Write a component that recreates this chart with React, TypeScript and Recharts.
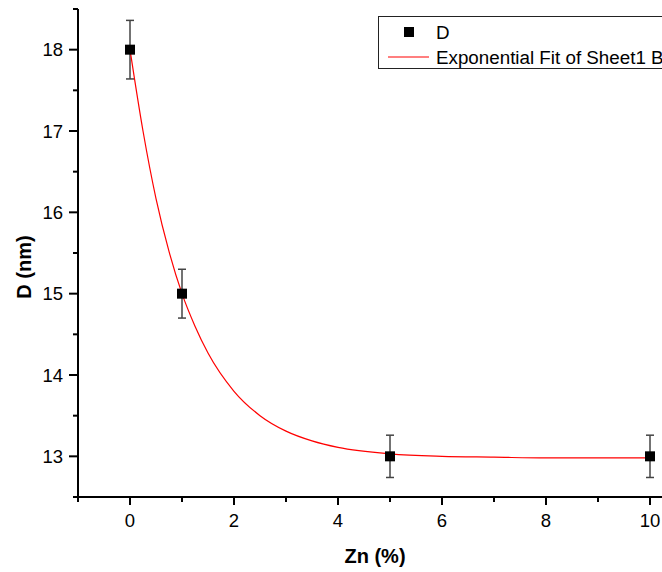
import React from 'react';
import { ComposedChart, Scatter, Line, XAxis, YAxis, ErrorBar, Legend, Label } from 'recharts';

// measured points
const zn = [0, 1, 5, 10];
const dSize = [18, 15, 13, 13];
const dErr = [0.36, 0.3, 0.26, 0.26];

// fit curve
const fitX = [0, 0.25, 0.5, 0.75, 1, 1.25, 1.5, 2, 2.5, 3, 3.5, 4, 5, 6, 7, 8, 9, 10];
const fitY = [18, 17.0, 16.17, 15.52, 15.0, 14.6, 14.27, 13.8, 13.5, 13.31, 13.19, 13.11, 13.03, 13.0, 12.99, 12.98, 12.98, 12.98];

const xTicks = [-1, 0, 1, 2, 3, 4, 5, 6, 7, 8, 9, 10];
const yTicks = [12.5, 13, 13.5, 14, 14.5, 15, 15.5, 16, 16.5, 17, 17.5, 18, 18.5];

const points = zn.map((x, i) => ({ x, y: dSize[i], err: dErr[i] }));
const fit = fitX.map((x, i) => ({ x, y: fitY[i] }));

const FONT = '"Liberation Sans", Arial, sans-serif';

const BottomTick = (props: any) => {
  const { x, y, payload } = props;
  const major = payload.value % 2 === 0;
  return (
    <g>
      <line x1={x} x2={x} y1={y} y2={y + (major ? 8 : 5)} stroke="#000" strokeWidth={2} />
      {major && (
        <text x={x} y={y + 30} textAnchor="middle" fontSize={18.5} fontFamily={FONT} fill="#000">
          {payload.value}
        </text>
      )}
    </g>
  );
};

const TopTick = (props: any) => {
  const { x, y, payload } = props;
  const major = payload.value % 2 === 0;
  return <line x1={x} x2={x} y1={y} y2={y + (major ? 8 : 5)} stroke="#000" strokeWidth={2} />;
};

const LeftTick = (props: any) => {
  const { x, y, payload } = props;
  const major = Number.isInteger(payload.value);
  return (
    <g>
      <line x1={x - (major ? 9 : 5)} x2={x} y1={y} y2={y} stroke="#000" strokeWidth={2} />
      {major && (
        <text x={x - 15} y={y + 6.5} textAnchor="end" fontSize={18.5} fontFamily={FONT} fill="#000">
          {payload.value}
        </text>
      )}
    </g>
  );
};

const LegendBox = (props: any) => {
  const items = props.payload || [];
  return (
    <div style={{ width: 340, height: 53, border: '1px solid #222', background: '#fff', boxSizing: 'border-box' }}>
      <svg width={340} height={51}>
        {items.map((it: any, i: number) => {
          const cy = 15 + i * 25;
          return (
            <g key={i}>
              {it.type === 'line' ? (
                <line x1={9} x2={50} y1={cy} y2={cy} stroke={it.color} strokeWidth={1.2} />
              ) : (
                <rect x={25} y={cy - 5} width={10} height={10} fill="#000" />
              )}
              <text x={57} y={cy + 6.5} fontSize={18.8} fontFamily={FONT} fill="#000">
                {it.value}
              </text>
            </g>
          );
        })}
      </svg>
    </div>
  );
};

const Square = (props: any) => {
  const { cx, cy } = props;
  return <rect x={cx - 5} y={cy - 5} width={10} height={10} fill="#000" />;
};

const App: React.FC = () => {
  return (
    <div style={{ position: 'absolute', left: 0, top: 0, width: 662, height: 572, overflow: 'hidden', background: '#fff' }}>
      <ComposedChart width={700} height={572} margin={{ top: 9, right: 24, bottom: 0, left: 0 }}>
        <XAxis
          dataKey="x"
          type="number"
          domain={[-1, 10.5]}
          ticks={xTicks}
          interval={0}
          allowDataOverflow
          height={75}
          tickSize={0}
          tickMargin={0}
          tickLine={false}
          axisLine={{ stroke: '#000', strokeWidth: 2 }}
          tick={BottomTick}
        >
          <Label
            content={() => (
              <text x={375} y={563} textAnchor="middle" fontSize={20} fontWeight="bold" fontFamily={FONT} fill="#000">
                Zn (%)
              </text>
            )}
          />
        </XAxis>
        <XAxis
          xAxisId="top"
          orientation="top"
          type="number"
          domain={[-1, 10.5]}
          ticks={xTicks}
          interval={0}
          allowDataOverflow
          height={0}
          tickSize={0}
          tickMargin={0}
          tickLine={false}
          axisLine={{ stroke: '#000', strokeWidth: 2 }}
          tick={TopTick}
        />
        <YAxis
          type="number"
          domain={[12.5, 18.5]}
          ticks={yTicks}
          interval={0}
          allowDataOverflow
          width={78}
          tickSize={0}
          tickMargin={0}
          tickLine={false}
          axisLine={{ stroke: '#000', strokeWidth: 2 }}
          tick={LeftTick}
        >
          <Label
            content={() => (
              <text
                x={0}
                y={0}
                transform="translate(31 267) rotate(-90)"
                textAnchor="middle"
                fontSize={20}
                fontWeight="bold"
                fontFamily={FONT}
                fill="#000"
              >
                D (nm)
              </text>
            )}
          />
        </YAxis>
        <Legend
          layout="horizontal"
          verticalAlign="middle"
          align="center"
          wrapperStyle={{ position: 'absolute', left: 378, top: 16, width: 340, height: 53 }}
          content={LegendBox}
        />
        <Scatter
          name="D"
          data={points}
          dataKey="y"
          legendType="square"
          fill="#000"
          shape={Square}
          isAnimationActive={false}
        >
          <ErrorBar dataKey="err" direction="y" width={4} stroke="#444" strokeWidth={1.5} />
        </Scatter>
        <Line
          name="Exponential Fit of Sheet1 B"
          data={fit}
          dataKey="y"
          type="monotone"
          stroke="#ff0000"
          strokeWidth={1.2}
          dot={false}
          activeDot={false}
          legendType="line"
          isAnimationActive={false}
        />
      </ComposedChart>
    </div>
  );
};

export default App;
